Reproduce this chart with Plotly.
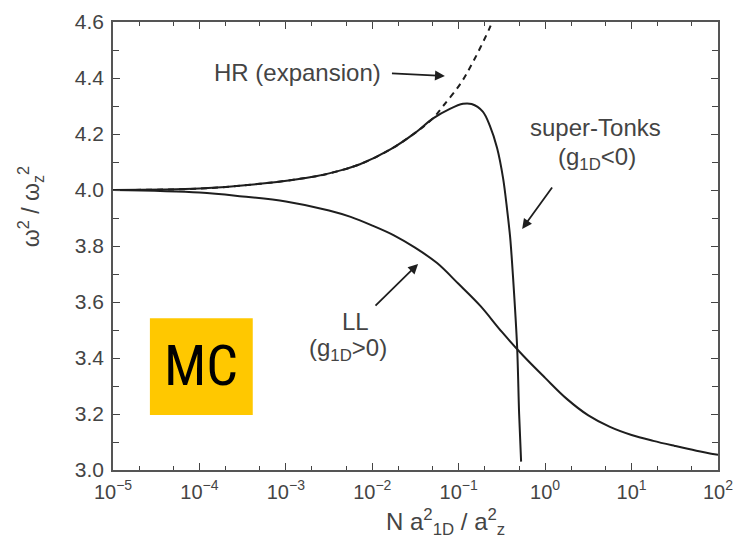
import plotly.graph_objects as go

# Upper branch: super-Tonks gas (g_1D < 0)
st_x = [1e-5, 1e-4, 5.0e-4, 2.3e-3, 4.3e-3, 7.2e-3, 0.0162, 0.0316, 0.050, 0.079,
        0.112, 0.141, 0.19, 0.229, 0.278, 0.327, 0.363, 0.394, 0.427, 0.474, 0.50, 0.527]
st_y = [4.000, 4.005, 4.022, 4.050, 4.070, 4.092, 4.145, 4.205, 4.255, 4.290,
        4.308, 4.307, 4.280, 4.230, 4.150, 4.040, 3.930, 3.830, 3.680, 3.440, 3.200, 3.030]

# Hydrodynamic expansion (dashed)
hr_x = [1e-5, 1e-4, 5.0e-4, 2.3e-3, 4.3e-3, 7.2e-3, 0.0162, 0.0316, 0.050, 0.066,
        0.105, 0.148, 0.229, 0.25]
hr_y = [4.000, 4.005, 4.022, 4.050, 4.070, 4.092, 4.145, 4.205, 4.255, 4.300,
        4.380, 4.460, 4.580, 4.610]

# Lieb-Liniger branch (g_1D > 0)
ll_x = [1e-5, 1e-4, 3.16e-4, 1e-3, 3.16e-3, 5.62e-3, 1e-2, 1.78e-2, 3.16e-2, 5.62e-2,
        0.1, 0.178, 0.316, 0.562, 1.0, 1.78, 3.16, 5.62, 10.0, 17.8, 31.6, 56.2, 100.0]
ll_y = [4.000, 3.991, 3.977, 3.959, 3.927, 3.904, 3.873, 3.838, 3.793, 3.739,
        3.664, 3.586, 3.493, 3.407, 3.329, 3.254, 3.195, 3.154, 3.125, 3.104,
        3.086, 3.069, 3.054]

x_tick_vals = [1e-5, 1e-4, 1e-3, 1e-2, 1e-1, 1, 10, 100]
x_tick_text = ["10<sup>−5</sup>", "10<sup>−4</sup>", "10<sup>−3</sup>", "10<sup>−2</sup>",
               "10<sup>−1</sup>", "10<sup>0</sup>", "10<sup>1</sup>", "10<sup>2</sup>"]
y_tick_vals = [3.0, 3.2, 3.4, 3.6, 3.8, 4.0, 4.2, 4.4, 4.6]
y_tick_text = ["3.0", "3.2", "3.4", "3.6", "3.8", "4.0", "4.2", "4.4", "4.6"]

LINE = "#1e1e1e"
TEXT = "#444444"
FONT = "Liberation Sans, Arial, sans-serif"

fig = go.Figure()
fig.add_trace(go.Scatter(x=hr_x, y=hr_y, mode="lines",
                         line=dict(color=LINE, width=2, dash="6px,5px", shape="spline", smoothing=1.0),
                         showlegend=False, hoverinfo="skip"))
fig.add_trace(go.Scatter(x=st_x, y=st_y, mode="lines",
                         line=dict(color=LINE, width=2, shape="spline", smoothing=0.9),
                         showlegend=False))
fig.add_trace(go.Scatter(x=ll_x, y=ll_y, mode="lines",
                         line=dict(color=LINE, width=2, shape="spline", smoothing=1.0),
                         showlegend=False))

axis_common = dict(showline=True, linecolor="#555555", linewidth=1.5, mirror="ticks",
                   ticks="inside", ticklen=7, tickwidth=1.3, tickcolor="#444444",
                   showgrid=False, zeroline=False, automargin=False)

fig.update_xaxes(type="log", range=[-5, 2], tickvals=x_tick_vals, ticktext=x_tick_text,
                 tickfont=dict(family=FONT, size=20, color=TEXT), ticklabelstandoff=3,
                 minor=dict(ticks="inside", ticklen=4, tickcolor="#444444", showgrid=False),
                 **axis_common)
fig.update_yaxes(range=[3.0, 4.6], tickvals=y_tick_vals, ticktext=y_tick_text,
                 tickfont=dict(family=FONT, size=21, color=TEXT), ticklabelstandoff=3,
                 minor=dict(ticks="inside", ticklen=6, dtick=0.1, tickcolor="#444444", showgrid=False),
                 **axis_common)

# Axis titles
fig.add_annotation(x=0.549, y=-0.116, xref="paper", yref="paper", showarrow=False,
                   xanchor="center", yanchor="middle",
                   text="N a<sup>2</sup><sub>1D</sub> / a<sup>2</sup><sub>z</sub>",
                   font=dict(family=FONT, size=24, color=TEXT))
fig.add_annotation(x=-0.137, y=0.587, xref="paper", yref="paper", showarrow=False,
                   xanchor="center", yanchor="middle", textangle=-90,
                   text="ω<sup>2</sup> / ω<sub>z</sub><sup>2</sup>",
                   font=dict(family=FONT, size=23, color=TEXT))

# Text labels (x given as log10 on the log axis)
labels = [
    ("HR (expansion)", -2.86, 4.418),
    ("super-Tonks", 0.58, 4.225),
    ("(g<sub>1D</sub><0)", 0.60, 4.114),
    ("LL", -2.2, 3.529),
    ("(g<sub>1D</sub>>0)", -2.28, 3.429),
]
for txt, lx, ly in labels:
    fig.add_annotation(x=lx, y=ly, xref="x", yref="y", text=txt, showarrow=False,
                       xanchor="center", yanchor="middle",
                       font=dict(family=FONT, size=24, color=TEXT))

# Pointer arrows (head, tail) in axis coordinates (x as log10)
arrows = [
    ((-1.16, 4.407), (-1.79, 4.417)),
    ((-0.266, 3.861), (0.093, 4.014)),
    ((-1.47, 3.736), (-1.98, 3.582)),
]
for (hx, hy), (tx, ty) in arrows:
    fig.add_annotation(x=hx, y=hy, ax=tx, ay=ty, xref="x", yref="y", axref="x", ayref="y",
                       text="", showarrow=True, arrowhead=2, arrowsize=1.1, arrowwidth=1.8,
                       arrowcolor=LINE)

# MC badge
fig.add_shape(type="rect", xref="paper", yref="paper", x0=0.061, x1=0.231, y0=0.123, y1=0.339,
              fillcolor="#FFC800", line=dict(width=0), layer="above")
fig.add_annotation(x=0.146, y=0.232, xref="paper", yref="paper", text="MC", showarrow=False,
                   xanchor="center", yanchor="middle",
                   font=dict(family="Liberation Sans Narrow, Roboto Condensed, Liberation Sans, sans-serif",
                             size=56, color="#000000"))

fig.update_layout(width=737, height=552, margin=dict(l=113, r=19, t=22, b=82),
                  plot_bgcolor="white", paper_bgcolor="white")

fig.write_html("out.html")
